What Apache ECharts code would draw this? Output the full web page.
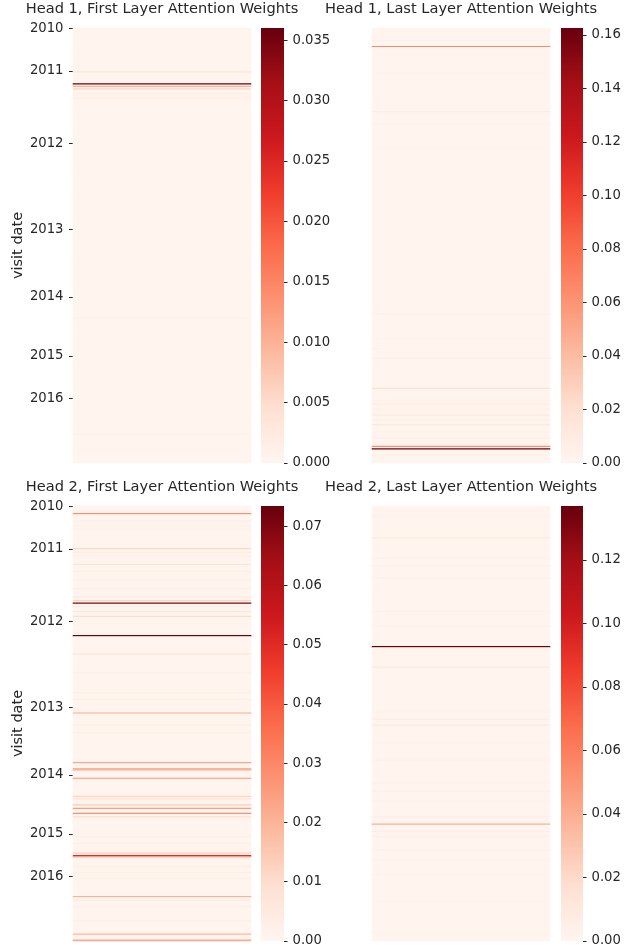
<!DOCTYPE html>
<html>
<head>
<meta charset="utf-8">
<script src="https://cdn.jsdelivr.net/npm/echarts@6/dist/echarts.min.js"></script>
<style>
html, body { margin: 0; padding: 0; background: #fff; }
#chart { width: 637px; height: 949px; }
</style>
</head>
<body>
<div id="chart"></div>
<script>
// one row per visit, oldest at the top
const nVisits = 360
const yearLabels = ['2010', '2011', '2012', '2013', '2014', '2015', '2016']
const yearRows = [0, 35, 95, 166, 222, 271, 306]

// [visit row, attention weight] for rows that stand out, the rest use baseWeight
const h1First = [
  [36, 0.0035], [46, 0.036], [48, 0.010], [50, 0.006], [54, 0.0015],
  [56, 0.0012], [58, 0.0015], [240, 0.0006], [336, 0.0008],
]
const h1Last = [
  [10, 0.004], [15, 0.065], [22, 0.003], [37, 0.003], [69, 0.012], [79, 0.004],
  [99, 0.003], [236, 0.004], [257, 0.003], [265, 0.004], [273, 0.008], [298, 0.019],
  [308, 0.005], [311, 0.008], [315, 0.007], [320, 0.012], [324, 0.006], [328, 0.012],
  [334, 0.005], [339, 0.007], [343, 0.004], [346, 0.062], [348, 0.1626], [353, 0.004],
]
const h2First = [
  [6, 0.028], [12, 0.003], [16, 0.002], [19, 0.002], [35, 0.012], [38, 0.004],
  [41, 0.003], [48, 0.007], [54, 0.003], [61, 0.002], [68, 0.003], [75, 0.006],
  [78, 0.012], [80, 0.070], [83, 0.004], [87, 0.007], [91, 0.010], [107, 0.0734],
  [122, 0.007], [138, 0.003], [154, 0.003], [160, 0.003], [171, 0.022], [181, 0.003],
  [187, 0.003], [212, 0.023], [217, 0.020], [218, 0.022], [225, 0.027], [240, 0.012],
  [242, 0.008], [247, 0.014], [250, 0.025], [254, 0.028], [257, 0.010], [273, 0.003],
  [279, 0.003], [287, 0.013], [289, 0.050], [290, 0.020], [298, 0.003], [303, 0.003],
  [308, 0.003], [323, 0.020], [326, 0.004], [331, 0.003], [343, 0.004], [354, 0.019],
  [359, 0.022],
]
const h2Last = [
  [7, 0.004], [9, 0.004], [26, 0.010], [43, 0.004], [49, 0.004], [59, 0.004],
  [87, 0.004], [99, 0.004], [116, 0.137], [133, 0.009], [170, 0.004], [176, 0.007],
  [181, 0.009], [196, 0.003], [210, 0.004], [229, 0.005], [235, 0.004], [236, 0.005],
  [244, 0.004], [257, 0.005], [263, 0.038], [269, 0.007], [273, 0.006], [284, 0.004],
  [293, 0.004], [305, 0.003], [320, 0.003], [327, 0.003], [345, 0.003], [353, 0.003],
]

const panelTitles = [
  'Head 1, First Layer Attention Weights',
  'Head 1, Last Layer Attention Weights',
  'Head 2, First Layer Attention Weights',
  'Head 2, Last Layer Attention Weights',
]
const panelWeights = [h1First, h1Last, h2First, h2Last]
const baseWeight = [0.0003, 0.0013, 0.0006, 0.0011]
const scaleMax = [0.036, 0.1626, 0.0734, 0.137]
const cbTicks = [
  [0, 0.005, 0.01, 0.015, 0.02, 0.025, 0.03, 0.035],
  [0, 0.02, 0.04, 0.06, 0.08, 0.10, 0.12, 0.14, 0.16],
  [0, 0.01, 0.02, 0.03, 0.04, 0.05, 0.06, 0.07],
  [0, 0.02, 0.04, 0.06, 0.08, 0.10, 0.12],
]
const cbDigits = [3, 2, 2, 2]

// matplotlib "Reds"
const reds = ['#fff5f0', '#fee0d2', '#fcbba1', '#fc9272', '#fb6a4a', '#ef3b2c', '#cb181d', '#a50f15', '#67000d']
const ink = '#262626'
const font = 'DejaVu Sans'

const layout = [
  { left: 73, top: 28, cbLeft: 261, cbWidth: 23, labels: true },
  { left: 372, top: 28, cbLeft: 561, cbWidth: 22, labels: false },
  { left: 73, top: 506, cbLeft: 261, cbWidth: 23, labels: true },
  { left: 372, top: 506, cbLeft: 561, cbWidth: 22, labels: false },
]
const mapW = 178
const mapH = 435

const rowLabels = []
for (let i = 0; i < nVisits; i++) rowLabels.push('')
yearRows.forEach((r, i) => { rowLabels[r] = yearLabels[i] })
const isYearRow = (idx) => yearRows.indexOf(idx) >= 0

const chart = echarts.init(document.getElementById('chart'))

const title = []
const grid = []
const xAxis = []
const yAxis = []
const series = []
const visualMap = []

layout.forEach((p, k) => {
  title.push({
    text: panelTitles[k],
    left: p.left + mapW / 2,
    top: p.top - 26,
    padding: 0,
    textAlign: 'center',
    textStyle: { fontFamily: font, fontSize: 14.6, fontWeight: 'normal', color: ink },
  })

  // heatmap grid
  grid.push({
    left: p.left, top: p.top, width: mapW, height: mapH,
    show: true, backgroundColor: reds[0], borderWidth: 0,
  })
  // colorbar grid
  grid.push({ left: p.cbLeft, top: p.top, width: p.cbWidth, height: mapH })

  xAxis.push({ type: 'category', gridIndex: 2 * k, data: ['w'], show: false })
  xAxis.push({ type: 'category', gridIndex: 2 * k + 1, data: ['c'], show: false })

  yAxis.push({
    type: 'category',
    gridIndex: 2 * k,
    data: rowLabels,
    inverse: true,
    name: p.labels ? 'visit date' : '',
    nameLocation: 'middle',
    nameRotate: 90,
    nameGap: 44,
    nameTextStyle: { fontFamily: font, fontSize: 14.5, color: ink },
    axisLine: { show: false },
    axisTick: {
      show: p.labels, interval: isYearRow, alignWithLabel: true,
      length: 4, lineStyle: { color: ink, width: 1 },
    },
    axisLabel: {
      show: p.labels, interval: isYearRow, margin: 9.5,
      fontFamily: font, fontSize: 13.2, color: ink,
    },
    splitLine: { show: false },
  })
  yAxis.push({
    type: 'value',
    gridIndex: 2 * k + 1,
    position: 'right',
    min: 0,
    max: scaleMax[k],
    axisLine: { show: false },
    splitLine: { show: false },
    axisTick: {
      show: true, length: 3.5, customValues: cbTicks[k],
      lineStyle: { color: ink, width: 1 },
    },
    axisLabel: {
      margin: 8.5, customValues: cbTicks[k],
      fontFamily: font, fontSize: 13.2, color: ink,
      formatter: (v) => v.toFixed(cbDigits[k]),
    },
  })

  const vals = []
  for (let r = 0; r < nVisits; r++) vals.push([0, r, baseWeight[k]])
  panelWeights[k].forEach(([r, w]) => { vals[r][2] = w })

  series.push({
    type: 'heatmap',
    xAxisIndex: 2 * k,
    yAxisIndex: 2 * k,
    data: vals,
    itemStyle: { borderWidth: 0 },
    emphasis: { disabled: true },
    silent: true,
  })
  series.push({
    type: 'bar',
    xAxisIndex: 2 * k + 1,
    yAxisIndex: 2 * k + 1,
    data: [scaleMax[k]],
    barWidth: '100%',
    silent: true,
    itemStyle: {
      color: {
        type: 'linear', x: 0, y: 1, x2: 0, y2: 0,
        colorStops: reds.map((c, i) => ({ offset: i / (reds.length - 1), color: c })),
      },
    },
  })

  visualMap.push({
    type: 'continuous',
    show: false,
    seriesIndex: 2 * k,
    dimension: 2,
    min: 0,
    max: scaleMax[k],
    inRange: { color: reds },
  })
})

chart.setOption({
  animation: false,
  backgroundColor: '#ffffff',
  title,
  grid,
  xAxis,
  yAxis,
  visualMap,
  series,
})
</script>
</body>
</html>
